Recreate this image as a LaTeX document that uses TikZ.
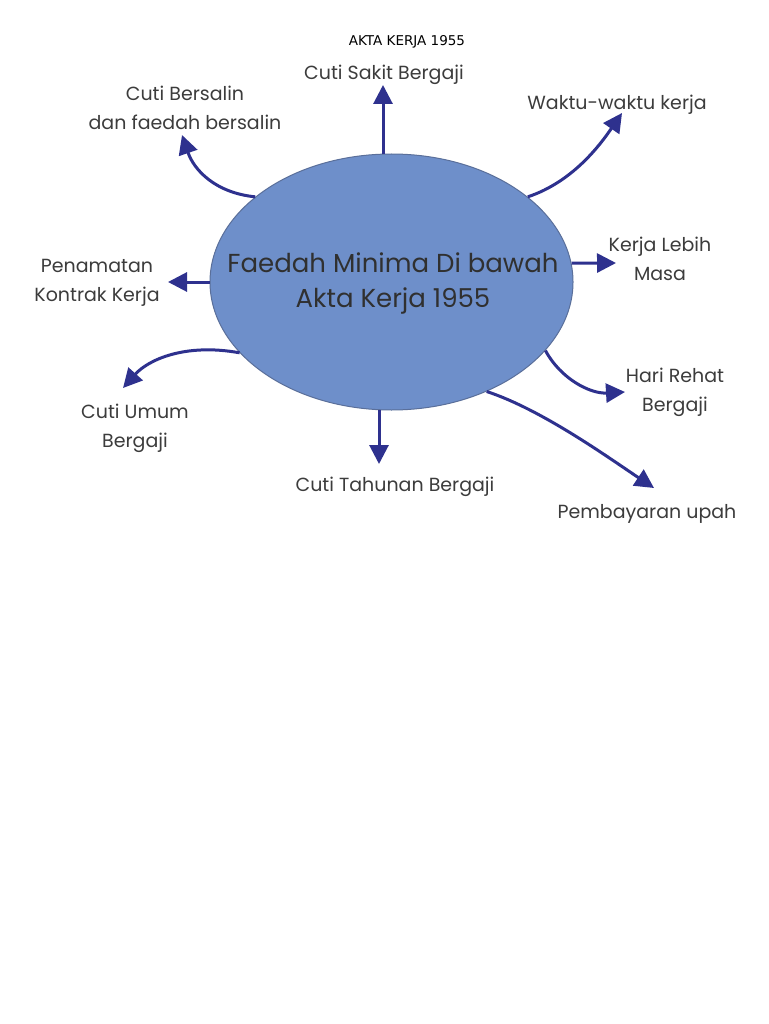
\documentclass[tikz,border=0pt]{standalone}
\usepackage{fontspec}
\setmainfont{Poppins}
\newfontfamily\titlefont{DejaVu Sans}
\usetikzlibrary{shapes.geometric,arrows.meta}
\definecolor{ellfill}{HTML}{6E8FCA}
\definecolor{elldraw}{HTML}{5A6F9A}
\definecolor{arr}{HTML}{2E318E}
\definecolor{txt}{HTML}{3C3C3C}
\begin{document}
\begin{tikzpicture}[x=1pt,y=-1pt,
  lbl/.style={text=txt,font=\fontsize{19}{29}\selectfont,align=center,inner sep=0pt},
  conn/.style={draw=arr,line width=3pt,-{Triangle[width=19pt,length=19pt]}}]
\useasboundingbox[fill=white] (0,0) rectangle (768,1024);
\node[font=\titlefont\fontsize{13.5}{16}\selectfont,inner sep=0pt] (title) at (407,42) {AKTA KERJA 1955};
\node[ellipse,draw=elldraw,line width=1pt,fill=ellfill,minimum width=363pt,minimum height=256pt,inner sep=0pt] (c) at (391.5,282) {};
\node[text=txt!80!black,font=\fontsize{26}{35}\selectfont,align=center,inner sep=0pt] (ctext) at (393,283) {Faedah Minima Di bawah\\Akta Kerja 1955};
\node[lbl] (sakit) at (384,75) {Cuti Sakit Bergaji};
\node[lbl] (bersalin) at (185,108) {Cuti Bersalin\\dan faedah bersalin};
\node[lbl] (waktu) at (617,105) {Waktu-waktu kerja};
\node[lbl] (lebih) at (660,259) {Kerja Lebih\\Masa};
\node[lbl] (tamat) at (97,283) {Penamatan\\Kontrak Kerja};
\node[lbl] (rehat) at (675,392) {Hari Rehat\\Bergaji};
\node[lbl] (umum) at (135,428) {Cuti Umum\\Bergaji};
\node[lbl] (tahunan) at (395,487) {Cuti Tahunan Bergaji};
\node[lbl] (upah) at (647,514) {Pembayaran upah};
\coordinate (tSakit) at (383,85);
\coordinate (tBersalin) at (182,135);
\coordinate (tWaktu) at (622,113);
\coordinate (tLebih) at (616,263);
\coordinate (tTamat) at (168,282);
\coordinate (tUmum) at (123,388);
\coordinate (tRehat) at (625,392);
\coordinate (tTahunan) at (379,464);
\coordinate (tUpah) at (654,488);
\draw[conn] ([yshift=-1pt]c.north -| tSakit) -- (tSakit);
\draw[conn] (c.148) .. controls +(-40,-4) and +(12,35) .. (tBersalin);
\draw[conn] (c.32.7) .. controls +(45,-15) and +(-22,32) .. (tWaktu);
\draw[conn] (c.6) -- (tLebih);
\draw[conn] (c.180) -- (tTamat);
\draw[conn] (c.205) .. controls +(-55,-10) and +(25,-28) .. (tUmum);
\draw[conn] (c.-24.5) .. controls +(15,28) and +(-35,2) .. (tRehat);
\draw[conn] ([yshift=1pt]c.south -| tTahunan) -- (tTahunan);
\draw[conn] (c.-49) .. controls +(55,18) and +(-45,-30) .. (tUpah);
\end{tikzpicture}
\end{document}
